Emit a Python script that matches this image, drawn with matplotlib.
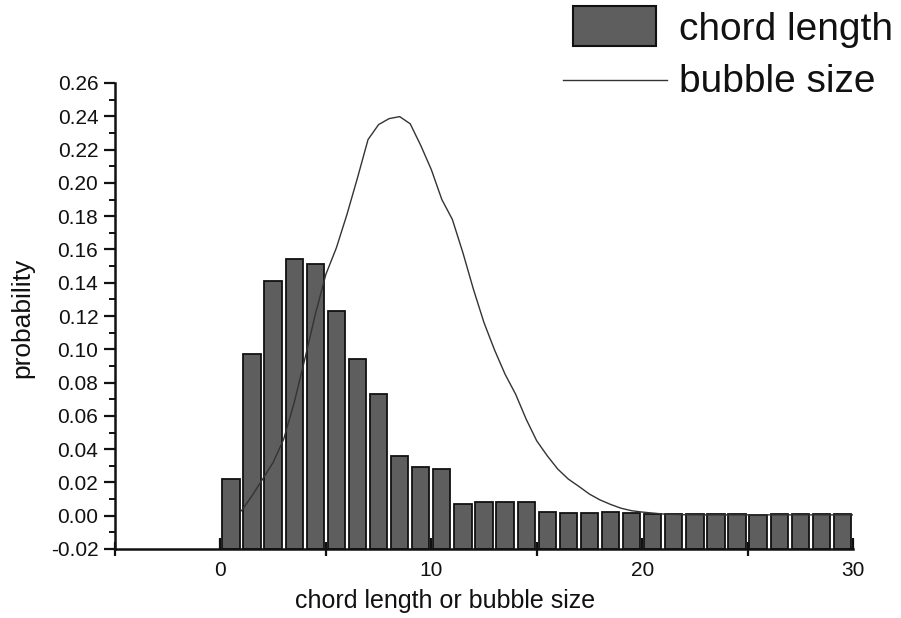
import numpy as np
import matplotlib
matplotlib.use("Agg")
import matplotlib.pyplot as plt
from matplotlib.patches import Rectangle
from matplotlib.lines import Line2D
from matplotlib.ticker import MultipleLocator, FormatStrFormatter

plt.rcParams['font.family'] = ['Liberation Sans', 'DejaVu Sans']

# chord length histogram (bins of width 1 starting at 0)
chord_bins = np.arange(30)
chord_prob = [0.022, 0.097, 0.141, 0.154, 0.151, 0.123, 0.094, 0.073, 0.036, 0.029,
              0.028, 0.007, 0.0085, 0.008, 0.008, 0.0025, 0.0015, 0.0015, 0.0025, 0.0015,
              0.0008, 0.0008, 0.001, 0.001, 0.001, 0.0006, 0.001, 0.001, 0.0008, 0.001]

# bubble size distribution
bubble_x = [1, 1.5, 2, 2.5, 3, 3.5, 4, 4.5, 5, 5.5, 6, 6.5, 7, 7.5, 8, 8.5, 9, 9.5,
            10, 10.5, 11, 11.5, 12, 12.5, 13, 13.5, 14, 14.5, 15, 15.5, 16, 16.5,
            17, 17.5, 18, 18.5, 19, 19.5, 20, 21, 22, 23, 24, 25, 26, 27, 28, 29, 30]
bubble_p = [0.003, 0.012, 0.022, 0.032, 0.046, 0.068, 0.094, 0.121, 0.145, 0.161,
            0.181, 0.203, 0.226, 0.235, 0.2386, 0.2398, 0.2355, 0.2225,
            0.208, 0.190, 0.178, 0.158, 0.136, 0.116, 0.0996, 0.085, 0.073, 0.058,
            0.045, 0.036, 0.028, 0.022, 0.0176, 0.013, 0.0095, 0.0068, 0.0045, 0.003,
            0.0022, 0.001, 0.0006, 0.0005, 0.0005, 0.0005, 0.0005, 0.0005, 0.0005,
            0.0005, 0.0005]

series_names = ['chord length', 'bubble size']
x_ticks = [0, 10, 20, 30]
y_min, y_max = -0.02, 0.26

W, H = 901, 618
fig = plt.figure(figsize=(W / 100, H / 100), dpi=100)
ax = fig.add_axes([115 / W, 1 - 549 / H, 738 / W, 466 / H])

bar_color = '#5e5e5e'
edge_color = '#111111'
line_color = '#333333'

heights = np.array(chord_prob) - y_min
ax.bar(chord_bins + 0.5, heights, width=0.82, bottom=y_min,
       color=bar_color, edgecolor=edge_color, linewidth=1.3, zorder=2)
ax.plot(bubble_x, bubble_p, color=line_color, linewidth=1.0, zorder=3)

ax.set_xlim(-5, 30)
ax.set_ylim(y_min, y_max)
ax.set_xticks(x_ticks)
ax.xaxis.set_minor_locator(MultipleLocator(5))
ax.yaxis.set_major_locator(MultipleLocator(0.02))
ax.yaxis.set_minor_locator(MultipleLocator(0.01))
ax.yaxis.set_major_formatter(FormatStrFormatter('%.2f'))

for side in ('top', 'right'):
    ax.spines[side].set_visible(False)
for side in ('left', 'bottom'):
    ax.spines[side].set_linewidth(1.8)
    ax.spines[side].set_color(edge_color)

ax.tick_params(axis='y', which='major', direction='out', length=8, width=1.6,
               labelsize=15, pad=4, colors=edge_color)
ax.tick_params(axis='y', which='minor', direction='out', length=4, width=1.4,
               colors=edge_color)
ax.tick_params(axis='x', which='major', direction='in', length=8, width=1.6,
               labelsize=15, pad=9, colors=edge_color)
ax.tick_params(axis='x', which='minor', direction='inout', length=10, width=1.6,
               colors=edge_color)

xl = ax.set_xlabel('chord length or bubble size', fontsize=18, color=edge_color,
                   va='center', ha='center')
ax.xaxis.set_label_coords((445 - 115) / 738, (549 - 601) / 466)
yl = ax.set_ylabel('probability', fontsize=19, color=edge_color,
                   va='center', ha='center')
ax.yaxis.set_label_coords((22 - 115) / 738, (549 - 318) / 466)

# legend drawn in figure pixel coordinates (top-left origin converted)
def fx(px):
    return px / W

def fy(py):
    return 1 - py / H

fig.add_artist(Rectangle((fx(573), fy(46)), fx(656) - fx(573), fy(6) - fy(46),
                         transform=fig.transFigure, facecolor=bar_color,
                         edgecolor=edge_color, linewidth=1.5))
fig.add_artist(Line2D([fx(563), fx(667)], [fy(80), fy(80)],
                      transform=fig.transFigure, color=line_color, linewidth=1.0))
fig.text(fx(679), fy(30), series_names[0], fontsize=28, color=edge_color,
         ha='left', va='center')
fig.text(fx(679), fy(82), series_names[1], fontsize=28, color=edge_color,
         ha='left', va='center')

fig.savefig('out.png', dpi=100)
